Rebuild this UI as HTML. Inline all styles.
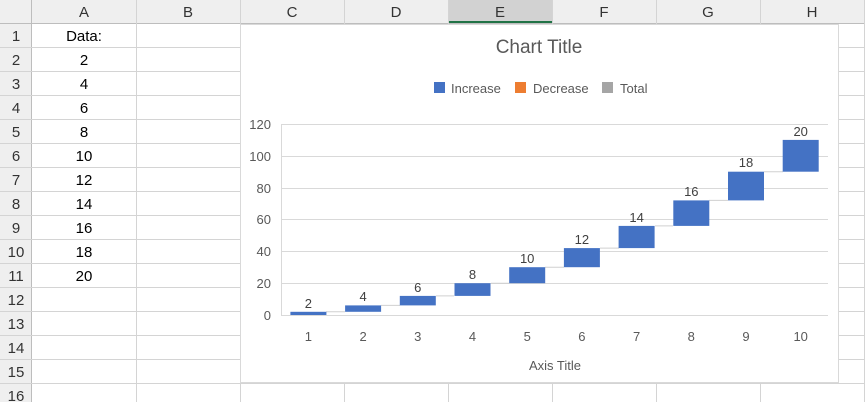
<!DOCTYPE html>
<html><head><meta charset="utf-8"><style>
body{margin:0;background:#fff;}
svg{display:block;font-family:"Liberation Sans",sans-serif;}
</style></head><body>
<svg width="865" height="402" viewBox="0 0 865 402" xmlns="http://www.w3.org/2000/svg">
<rect width="865" height="402" fill="#fff"/>
<rect x="0" y="0" width="865" height="23" fill="#efefef"/>
<rect x="0" y="0" width="32" height="402" fill="#efefef"/>
<rect x="448" y="0" width="104" height="23" fill="#d2d2d2"/>
<line x1="448" y1="22" x2="552" y2="22" stroke="#217346" stroke-width="2"/>
<g stroke="#d4d4d4" stroke-width="1">
<line x1="0" y1="23.5" x2="865" y2="23.5" stroke="#bdbdbd"/>
<line x1="31.5" y1="0" x2="31.5" y2="402" stroke="#bdbdbd"/>
<path d="M136.5 0V402M240.5 0V402M344.5 0V402M448.5 0V402M552.5 0V402M656.5 0V402M760.5 0V402M864.5 0V402"/>
<path d="M0 47.5H865M0 71.5H865M0 95.5H865M0 119.5H865M0 143.5H865M0 167.5H865M0 191.5H865M0 215.5H865M0 239.5H865M0 263.5H865M0 287.5H865M0 311.5H865M0 335.5H865M0 359.5H865M0 383.5H865"/>
</g>
<g font-size="15" fill="#333" text-anchor="middle">
<text x="84" y="17">A</text><text x="188" y="17">B</text><text x="292" y="17">C</text><text x="396" y="17">D</text><text x="500" y="17">E</text><text x="604" y="17">F</text><text x="708" y="17">G</text><text x="812" y="17">H</text>
</g>
<g font-size="15" fill="#333" text-anchor="middle">
<text x="16" y="41">1</text><text x="16" y="65">2</text><text x="16" y="89">3</text><text x="16" y="113">4</text><text x="16" y="137">5</text><text x="16" y="161">6</text><text x="16" y="185">7</text><text x="16" y="209">8</text><text x="16" y="233">9</text><text x="16" y="257">10</text><text x="16" y="281">11</text><text x="16" y="305">12</text><text x="16" y="329">13</text><text x="16" y="353">14</text><text x="16" y="377">15</text><text x="16" y="401">16</text>
</g>
<g font-size="15" fill="#000" text-anchor="middle">
<text x="84" y="41">Data:</text><text x="84" y="65">2</text><text x="84" y="89">4</text><text x="84" y="113">6</text><text x="84" y="137">8</text><text x="84" y="161">10</text><text x="84" y="185">12</text><text x="84" y="209">14</text><text x="84" y="233">16</text><text x="84" y="257">18</text><text x="84" y="281">20</text>
</g>
<rect x="240.5" y="24.5" width="598" height="358" fill="#fff" stroke="#d9d9d9"/>
<text x="539" y="53" font-size="19" fill="#595959" text-anchor="middle">Chart Title</text>
<rect x="434" y="82" width="11" height="11" fill="#4472c4"/>
<text x="451" y="93" font-size="13" fill="#595959">Increase</text>
<rect x="515" y="82" width="11" height="11" fill="#ed7d31"/>
<text x="533" y="93" font-size="13" fill="#595959">Decrease</text>
<rect x="602" y="82" width="11" height="11" fill="#a5a5a5"/>
<text x="620" y="93" font-size="13" fill="#595959">Total</text>
<g stroke="#d9d9d9" stroke-width="1">
<path d="M281 124.5H828M281 156.5H828M281 188.5H828M281 219.5H828M281 251.5H828M281 283.5H828M281 315.5H828M281.5 124V315"/>
</g>
<g font-size="13" fill="#595959" text-anchor="end">
<text x="271" y="129">120</text><text x="271" y="161">100</text><text x="271" y="193">80</text><text x="271" y="224">60</text><text x="271" y="256">40</text><text x="271" y="288">20</text><text x="271" y="320">0</text>
</g>
<g stroke="#d0d0d0" stroke-width="1">
<path d="M326 311.8H345M381 305.4H400M436 295.9H454M491 283.2H509M545 267.2H564M600 248.1H619M655 225.9H673M709 200.4H728M764 171.7H783"/>
</g>
<g fill="#4472c4">
<rect x="290.4" y="311.8" width="36" height="3.2"/>
<rect x="345.1" y="305.4" width="36" height="6.4"/>
<rect x="399.8" y="295.9" width="36" height="9.5"/>
<rect x="454.5" y="283.2" width="36" height="12.7"/>
<rect x="509.2" y="267.2" width="36" height="16"/>
<rect x="563.9" y="248.1" width="36" height="19.1"/>
<rect x="618.6" y="225.9" width="36" height="22.2"/>
<rect x="673.3" y="200.4" width="36" height="25.5"/>
<rect x="728" y="171.7" width="36" height="28.7"/>
<rect x="782.7" y="139.9" width="36" height="31.8"/>
</g>
<g font-size="13" fill="#404040" text-anchor="middle">
<text x="308.4" y="308">2</text><text x="363.1" y="301">4</text><text x="417.8" y="292">6</text><text x="472.5" y="279">8</text><text x="527.2" y="263">10</text><text x="581.9" y="244">12</text><text x="636.6" y="222">14</text><text x="691.3" y="196">16</text><text x="746" y="167">18</text><text x="800.7" y="136">20</text>
</g>
<g font-size="13" fill="#595959" text-anchor="middle">
<text x="308.4" y="341">1</text><text x="363.1" y="341">2</text><text x="417.8" y="341">3</text><text x="472.5" y="341">4</text><text x="527.2" y="341">5</text><text x="581.9" y="341">6</text><text x="636.6" y="341">7</text><text x="691.3" y="341">8</text><text x="746" y="341">9</text><text x="800.7" y="341">10</text>
</g>
<text x="555" y="370" font-size="13" fill="#595959" text-anchor="middle">Axis Title</text>
</svg>
</body></html>
